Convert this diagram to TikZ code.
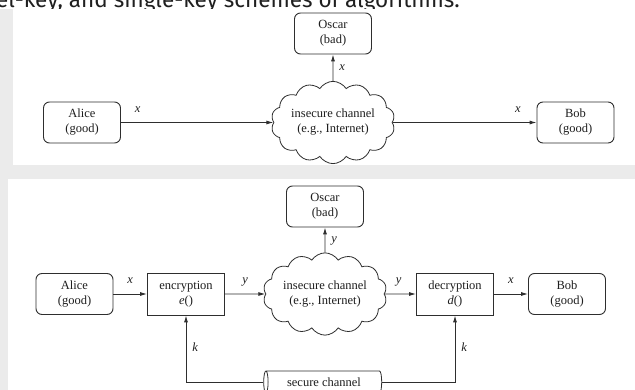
\documentclass[tikz,border=0pt]{standalone}
\usepackage{fontspec}
\setmainfont{Liberation Serif}
\newfontfamily\headfont{Fira Sans}
\usetikzlibrary{shapes.symbols,shapes.geometric,arrows.meta}

\begin{document}
\begin{tikzpicture}[x=1pt,y=-1pt,
  person/.style={draw=kLine,line width=0.9pt,rounded corners=6pt,minimum width=77pt,minimum height=41pt,align=center,font=\fontsize{12.5}{15}\selectfont,text=kText},
  cipher/.style={draw=kLine,line width=0.9pt,minimum width=77pt,minimum height=42pt,align=center,font=\fontsize{12.5}{15}\selectfont,text=kText},
  channel/.style={cloud,draw=kLine,line width=0.8pt,cloud puffs=14,cloud puff arc=115,aspect=1.7,inner sep=0pt,align=center,font=\fontsize{12.5}{15}\selectfont,text=kText},
  pipe/.style={cylinder,shape border rotate=180,shape aspect=0.5,draw=kLine,line width=0.8pt,minimum width=22pt,minimum height=118pt,inner sep=0pt,font=\fontsize{12.5}{15}\selectfont,text=kText},
  flow/.style={draw=kLine,line width=0.9pt,-{Latex[length=7pt,width=4pt]}},
  lbl/.style={font=\itshape\fontsize{12.5}{12}\selectfont,text=kText,inner sep=0pt,text height=5.5pt,text depth=0pt}]
  % colors
  \definecolor{kPage}{rgb}{0.92,0.92,0.92}
  \definecolor{kLine}{rgb}{0.18,0.18,0.18}
  \definecolor{kText}{rgb}{0.12,0.12,0.12}
  % page
  \useasboundingbox (0,0) rectangle (635,390);
  \fill[kPage] (0,0) rectangle (635,390);
  \fill[white] (0,0) rectangle (635,9);
  \begin{scope}
    \clip (0,0) rectangle (635,9);
    \node[anchor=base west,inner sep=0pt,font=\headfont\fontsize{22.5}{22}\selectfont,text=kText] (caption) at (-4,7.5) {el-key, and single-key schemes of algorithms.};
  \end{scope}
  \fill[white] (13,9) rectangle (635,165);
  \fill[white] (8,179) rectangle (635,390);
  % plain channel
  \node[person] (aliceA) at (82,122.5) {Alice\\(good)};
  \node[person] (oscarA) at (333,33.5) {Oscar\\(bad)};
  \node[channel,minimum width=120pt,minimum height=70pt] (chanA) at (333,122.5) {insecure channel\\(e.g., Internet)};
  \node[person] (bobA) at (575.5,122.5) {Bob\\(good)};
  \draw[flow] (aliceA) -- node[lbl,pos=0.11,above=10pt] {x} (chanA);
  \draw[flow] (chanA) -- node[lbl,pos=0.87,above=10pt] {x} (bobA);
  \draw[flow] (chanA) -- node[lbl,right=6pt] {x} (oscarA);
  % encrypted channel
  \node[person] (aliceB) at (74.5,294) {Alice\\(good)};
  \node[cipher] (encB) at (186,294) {encryption\\\textit{e}()};
  \node[channel,minimum width=116pt,minimum height=65pt] (chanB) at (325,294) {insecure channel\\(e.g., Internet)};
  \node[person] (oscarB) at (325,206.5) {Oscar\\(bad)};
  \node[cipher] (decB) at (455,294) {decryption\\\textit{d}()};
  \node[person] (bobB) at (567,294) {Bob\\(good)};
  \node[pipe] (secB) at (324,382) {secure channel};
  \draw[flow] (aliceB) -- node[lbl,above=10pt] {x} (encB);
  \draw[flow] (encB) -- node[lbl,above=10pt] {y} (chanB);
  \draw[flow] (chanB) -- node[lbl,pos=0.45,above=10pt] {y} (decB);
  \draw[flow] (decB) -- node[lbl,above=10pt] {x} (bobB);
  \draw[flow] (chanB) -- node[lbl,right=6pt] {y} (oscarB);
  \draw[flow] (secB.west) -| node[lbl,pos=0.75,right=6pt] {k} (encB.south);
  \draw[flow] (secB.east) -| node[lbl,pos=0.75,right=6pt] {k} (decB.south);
\end{tikzpicture}
\end{document}
